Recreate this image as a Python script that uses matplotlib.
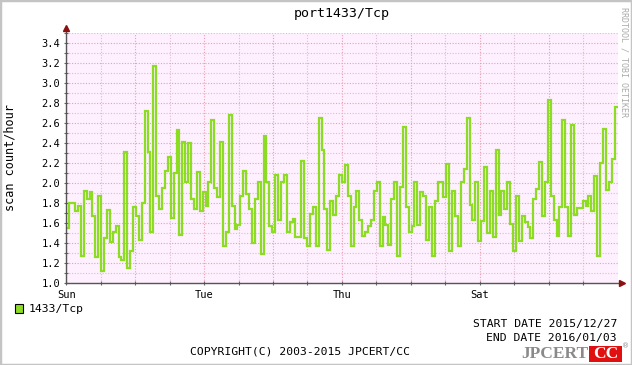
import numpy as np
import matplotlib.pyplot as plt
from matplotlib.patches import Rectangle

# hourly-ish scan counts, Sun 2015/12/27 -> Sun 2016/01/03
sun_mon = [1.55, 1.80, 1.80, 1.72, 1.77, 1.27, 1.92, 1.84, 1.91, 1.67, 1.26, 1.87,
           1.12, 1.45, 1.73, 1.41, 1.51, 1.57, 1.26, 1.23, 2.31, 1.15, 1.32, 1.76,
           1.67, 1.43, 1.80, 2.72, 2.31, 1.51, 3.17, 1.87, 1.74, 1.95, 2.12, 2.26,
           1.65, 2.10, 2.53, 1.48, 2.41, 2.01, 2.40, 1.84, 1.74, 2.11, 1.72, 1.91]
tue_wed = [1.77, 2.01, 2.63, 1.95, 1.86, 2.41, 1.37, 1.51, 2.68, 1.77, 1.54, 1.58,
           1.87, 2.12, 1.89, 1.74, 1.40, 1.84, 2.01, 1.29, 2.47, 2.01, 1.57, 1.51,
           2.08, 1.63, 2.01, 2.08, 1.51, 1.61, 1.64, 1.46, 1.46, 2.22, 1.45, 1.37,
           1.69, 1.76, 1.37, 2.65, 2.33, 1.74, 1.33, 1.82, 1.68, 1.87, 2.08, 2.01]
thu_fri = [2.18, 1.87, 1.37, 1.76, 1.92, 1.63, 1.47, 1.51, 1.57, 1.63, 1.92, 2.01,
           1.37, 1.66, 1.58, 1.38, 1.84, 2.01, 1.27, 1.96, 2.56, 1.76, 1.51, 1.57,
           2.01, 1.58, 1.91, 1.87, 1.43, 1.76, 1.27, 1.82, 2.01, 2.01, 1.86, 2.19,
           1.32, 1.92, 1.67, 1.37, 2.01, 2.14, 2.65, 1.78, 1.63, 2.01, 1.42]
sat_sun = [1.62, 2.16, 1.50, 1.92, 1.46, 2.33, 1.68, 1.92, 1.74, 2.01, 1.59, 1.32,
           1.87, 1.42, 1.67, 1.61, 1.56, 1.45, 1.84, 1.94, 2.21, 1.67, 2.01, 2.83,
           1.87, 1.63, 1.47, 1.76, 2.63, 1.76, 1.47, 2.58, 1.68, 1.75, 1.75, 1.82,
           1.77, 1.87, 1.72, 2.07, 1.27, 2.20, 2.54, 1.93, 2.01, 2.24, 2.76]

day_labels = ["Sun", "", "Tue", "", "Thu", "", "Sat", ""]
y_labels = np.round(np.arange(1.0, 3.41, 0.2), 1)

scans = sun_mon + tue_wed + thu_fri + sat_sun
edges = np.linspace(0, 8, len(scans) + 1)

W, H = 632, 365
mono = "DejaVu Sans Mono"


def px(x, y):
    return x / W, 1 - y / H


fig = plt.figure(figsize=(W / 100, H / 100), dpi=100)
fig.patch.set_facecolor("white")

x0, x1, ytop, ybot = 66.3, 617.5, 33.0, 283.3
ax = fig.add_axes([x0 / W, 1 - ybot / H, (x1 - x0) / W, (ybot - ytop) / H])
ax.set_facecolor("#fef0fe")

ax.stairs(scans, edges, baseline=None, color="#8cdc24", lw=1.6, zorder=3)

ax.set_xlim(0, 8)
ax.set_ylim(1.0, 3.5)

ax.set_xticks(np.arange(0, 8, 1))
ax.set_xticks(np.arange(0.5, 8, 1), minor=True)
ax.set_xticklabels(day_labels)
ax.set_yticks(y_labels)
ax.set_yticks(np.round(np.arange(1.1, 3.51, 0.2), 1), minor=True)
ax.set_yticklabels([f"{v:.1f}" for v in y_labels])

ax.grid(which="major", color="#e8a0b0", lw=0.8, linestyle=(0, (1, 1.5)))
ax.grid(which="minor", color="#dcbcd0", lw=0.8, linestyle=(0, (1, 1.5)))
ax.set_axisbelow(True)

ax.tick_params(which="both", direction="inout", length=3, width=0.8, color="#666666",
               labelsize=7.5, pad=3)
for lab in ax.get_xticklabels() + ax.get_yticklabels():
    lab.set_family(mono)

for s in ["top", "right", "left", "bottom"]:
    ax.spines[s].set_visible(False)

# axes with arrows, running a little past the plot area
ax.plot([0, 0], [1.0, 3.545], color="#555555", lw=1, clip_on=False, zorder=4)
ax.plot([0, 8.05], [1.0, 1.0], color="#555555", lw=1, clip_on=False, zorder=4)
ax.plot([0], [3.55], marker="^", color="#8b1010", ms=4, clip_on=False, zorder=5)
ax.plot([8.06], [1.0], marker=">", color="#8b1010", ms=4, clip_on=False, zorder=5)

fig.text(*px(341.7, 14), "port1433/Tcp", family=mono, fontsize=9.5, ha="center", va="center")
fig.text(*px(10, 158), "scan count/hour", family=mono, fontsize=8.5, rotation=90,
         ha="center", va="center")
fig.text(*px(624, 7), "RRDTOOL / TOBI OETIKER", family=mono, fontsize=6, color="#aaaaaa",
         rotation=270, ha="center", va="top")

# legend
fig.patches.append(Rectangle(px(15, 313), 8 / W, 9 / H, transform=fig.transFigure,
                             facecolor="#8cdc24", edgecolor="black", lw=0.8))
fig.text(*px(29, 309), "1433/Tcp", family=mono, fontsize=8.2, ha="left", va="center")

fig.text(*px(617, 324), "START DATE 2015/12/27", family=mono, fontsize=8.2, ha="right", va="center")
fig.text(*px(617, 338), "END DATE 2016/01/03", family=mono, fontsize=8.2, ha="right", va="center")
fig.text(*px(300, 352), "COPYRIGHT(C) 2003-2015 JPCERT/CC", family=mono, fontsize=8.2,
         ha="center", va="center")

# JPCERT/CC logo
fig.text(*px(588, 354), "JPCERT", family="Liberation Serif", weight="bold", fontsize=12.5,
         color="#8a8a8a", ha="right", va="center")
fig.patches.append(Rectangle(px(589, 362), 33 / W, 16 / H, transform=fig.transFigure,
                             facecolor="#e01010", edgecolor="none"))
fig.text(*px(605.5, 354.5), "CC", family="Liberation Serif", weight="bold", fontsize=12.5,
         color="white", ha="center", va="center")
fig.text(*px(626, 346), "®", family="DejaVu Sans", fontsize=5, color="#888888",
         ha="center", va="center")

# grey frame of the image
fig.patches.append(Rectangle((0, 0), 1, 1, transform=fig.transFigure, fill=False,
                             edgecolor="#c4c4c4", lw=2.5))

fig.savefig("out.png", dpi=100)
